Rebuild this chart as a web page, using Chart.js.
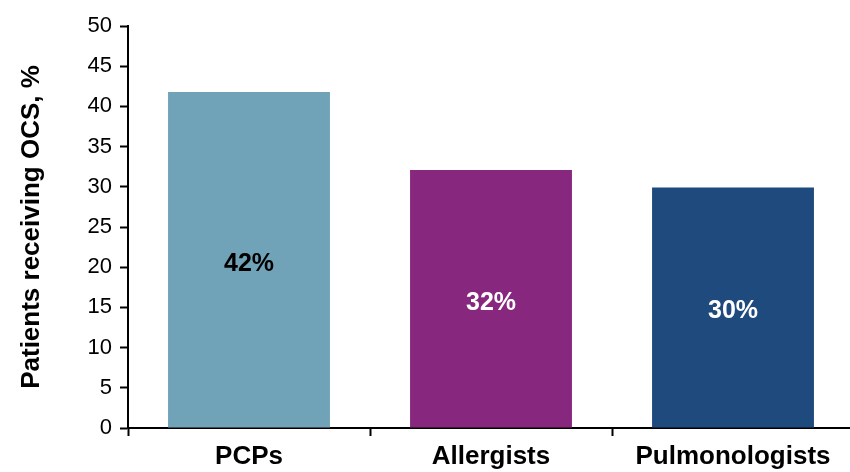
<!DOCTYPE html>
<html>
<head>
<meta charset="utf-8">
<script src="https://cdn.jsdelivr.net/npm/chart.js@4"></script>
<style>
  html, body { margin:0; padding:0; background:#fff; overflow:hidden; }
  #clip { width:850px; height:472px; overflow:hidden; }
  #wrap { width:854px; height:472px; position:relative; }
</style>
</head>
<body>
<div id="clip"><div id="wrap"><canvas id="chart"></canvas></div></div>
<script>
// data
const categories = ['PCPs', 'Allergists', 'Pulmonologists'];
const values = [41.8, 32.1, 29.9];
const valueLabels = ['42%', '32%', '30%'];
const barColors = ['#70a2b8', '#87287e', '#1f4a7e'];
const labelColors = ['#000000', '#ffffff', '#ffffff'];
const yTitle = 'Patients receiving OCS, %';

const FONT = "'Liberation Sans', Arial, Helvetica, sans-serif";

// texte au milieu des barres
const barText = {
  id: 'barText',
  afterDatasetsDraw(chart){
    const ctx = chart.ctx;
    const meta = chart.getDatasetMeta(0);
    ctx.save();
    ctx.font = 'bold 25px ' + FONT;
    ctx.textAlign = 'center';
    ctx.textBaseline = 'middle';
    meta.data.forEach((bar, i) => {
      ctx.fillStyle = labelColors[i];
      ctx.fillText(valueLabels[i], bar.x, (bar.y + bar.base) / 2 + 4);
    });
    ctx.restore();
  }
};

new Chart(document.getElementById('chart'), {
  type: 'bar',
  data: {
    labels: categories,
    datasets: [{
      data: values,
      backgroundColor: barColors,
      barPercentage: 0.669,
      categoryPercentage: 1
    }]
  },
  options: {
    responsive: true,
    maintainAspectRatio: false,
    animation: false,
    layout: { padding: { top: 26, right: 0, left: 0, bottom: 0 } },
    plugins: { legend: { display:false }, tooltip: { enabled:false } },
    scales: {
      x: {
        offset: true,
        border: { display:true, color:'#000', width:2 },
        grid: { display:true, drawOnChartArea:false, drawTicks:true, tickLength:8, tickWidth:2, tickColor:'#000', offset:true },
        ticks: { color:'#000', font: { family: FONT, size: 26, weight: 'bold' }, padding: 5, maxRotation:0 },
        afterFit(s){ s.height = 44; }
      },
      y: {
        min: 0, max: 50,
        border: { display:true, color:'#000', width:2 },
        grid: { display:true, drawOnChartArea:false, drawTicks:true, tickLength:8, tickWidth:2, tickColor:'#000' },
        ticks: { stepSize: 5, color:'#000', font: { family: FONT, size: 22 }, padding: 8 },
        title: { display:true, text: yTitle, color:'#000', font: { family: FONT, size: 26, weight: 'bold' }, padding: { top: 16, bottom: 0 } },
        afterFit(s){ s.width = 128; }
      }
    }
  },
  plugins: [barText]
});
</script>
</body>
</html>
